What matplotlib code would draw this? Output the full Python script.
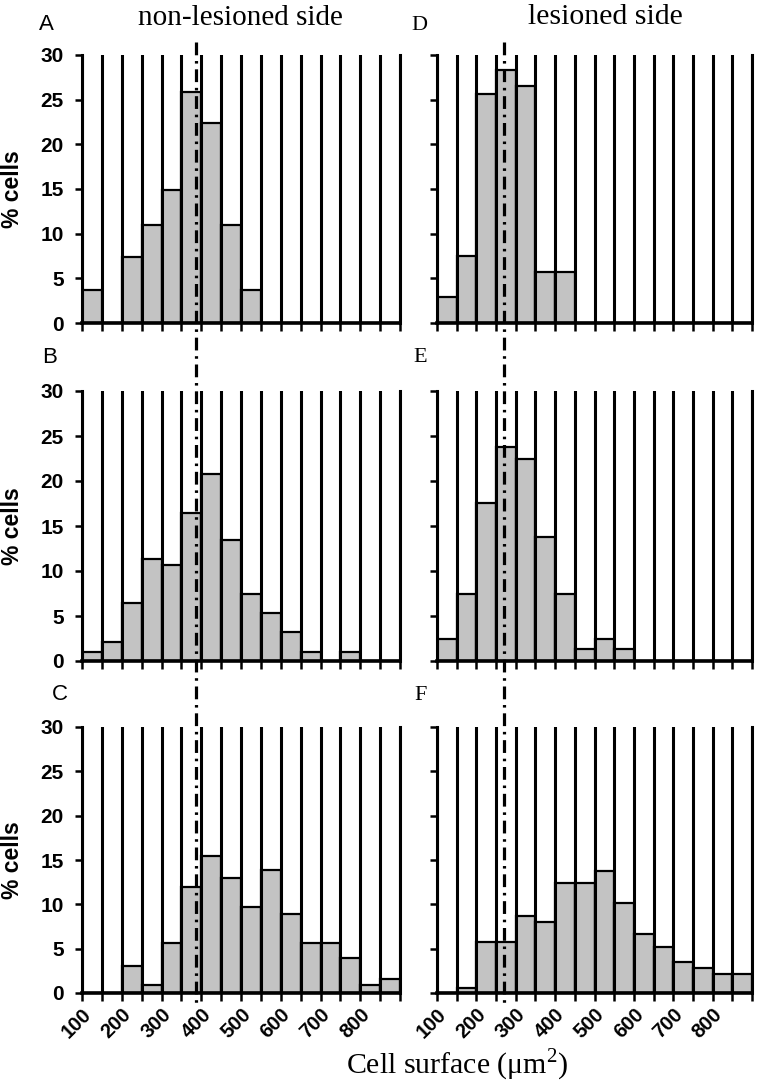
import numpy as np
import matplotlib
matplotlib.use("Agg")
from matplotlib import pyplot as plt
from matplotlib.lines import Line2D
from matplotlib import transforms

plt.rcParams['mathtext.fontset'] = 'custom'
plt.rcParams['mathtext.rm'] = 'Liberation Serif'

# 16 bins of 50 um^2, from 100 to 900
bin_edges = np.arange(100, 901, 50)
tick_labels = ['100', '200', '300', '400', '500', '600', '700', '800']

# % cells per bin
non_lesioned_A = [3.7, 0, 7.4, 11.0, 14.9, 25.9, 22.4, 11.0, 3.7, 0, 0, 0, 0, 0, 0, 0]
non_lesioned_B = [1.0, 2.1, 6.4, 11.3, 10.7, 16.4, 20.8, 13.5, 7.4, 5.3, 3.2, 1.0, 0, 1.0, 0, 0]
non_lesioned_C = [0, 0, 3.1, 0.9, 5.6, 12.0, 15.5, 13.0, 9.7, 13.9, 8.9, 5.6, 5.6, 3.9, 0.9, 1.6]
lesioned_D = [2.9, 7.5, 25.6, 28.3, 26.5, 5.7, 5.7, 0, 0, 0, 0, 0, 0, 0, 0, 0]
lesioned_E = [2.4, 7.5, 17.6, 23.8, 22.5, 13.8, 7.5, 1.3, 2.5, 1.3, 0, 0, 0, 0, 0, 0]
lesioned_F = [0, 0.6, 5.7, 5.7, 8.7, 8.0, 12.4, 12.4, 13.8, 10.2, 6.6, 5.2, 3.5, 2.8, 2.1, 2.1]

# reference lines (um^2)
mean_non_lesioned = 388
mean_lesioned = 270

panels = [
    ('A', non_lesioned_A, 0, 0), ('B', non_lesioned_B, 1, 0), ('C', non_lesioned_C, 2, 0),
    ('D', lesioned_D, 0, 1), ('E', lesioned_E, 1, 1), ('F', lesioned_F, 2, 1),
]

fig = plt.figure(figsize=(7.58, 10.92), dpi=100)

W, H = 758.0, 1092.0
col_x = [(82, 318), (437, 315)]
row_y = [(55, 268), (391, 270), (727, 266)]

axes = {}
for letter, values, r, c in panels:
    x0, w = col_x[c]
    y0, h = row_y[r]
    ax = fig.add_axes([x0 / W, 1 - (y0 + h) / H, w / W, h / H])
    axes[(r, c)] = ax

    nb = len(values)
    ax.bar(np.arange(nb), values, width=1, align='edge', color='#c3c3c3',
           edgecolor='black', linewidth=1.6, zorder=2)

    ax.set_xlim(0, nb)
    ax.set_ylim(0, 30)
    ax.set_xticks(np.arange(nb + 1))
    ax.grid(axis='x', color='black', linewidth=2.2, zorder=3)
    ax.set_axisbelow(False)
    ax.set_yticks(np.arange(0, 31, 5))

    ax.spines['top'].set_visible(False)
    ax.spines['right'].set_linewidth(2.2)
    ax.spines['left'].set_linewidth(2.2)
    ax.spines['bottom'].set_linewidth(2.6)
    ax.tick_params(axis='y', direction='out', length=5, width=1.8, pad=8)
    ax.tick_params(axis='x', direction='out', length=5.5, width=1.8, pad=3)

    if c == 0:
        ax.set_yticklabels([str(v) for v in range(0, 31, 5)], fontsize=15,
                           fontweight='bold', family='Liberation Sans')
        ax.set_ylabel('% cells', fontsize=16.5, fontweight='bold',
                      family='Liberation Sans')
        ax.yaxis.set_label_coords((24 - 82) / 318.0, 0.5)
    else:
        ax.set_yticklabels([])

    if r == 2:
        labels = [tick_labels[i // 2] if i % 2 == 0 and i // 2 < len(tick_labels) else ''
                  for i in range(nb + 1)]
        ax.set_xticklabels(labels, rotation=45, ha='right', rotation_mode='anchor',
                           fontsize=14.5, fontweight='bold', family='Liberation Sans')
    else:
        ax.set_xticklabels([])

    # panel letters
    lx = {0: {0: 46, 1: 50, 2: 60}, 1: {0: 419, 1: 420, 2: 421}}[c][r]
    ly = {0: 25, 1: 358, 2: 695}[r]
    fam = 'Liberation Sans' if c == 0 else 'Liberation Serif'
    fig.text(lx / W, 1 - ly / H, letter, fontsize=16, family=fam,
             ha='center', va='center')

# column titles
fig.text(240 / W, 1 - 18 / H, 'non-lesioned side', fontsize=21,
         family='Liberation Serif', ha='center', va='center')
fig.text(605 / W, 1 - 17 / H, 'lesioned side', fontsize=21.5,
         family='Liberation Serif', ha='center', va='center')

fig.text(457 / W, 1 - 1065 / H, r'Cell surface (μm$^{\mathrm{2}}$)', fontsize=21.5,
         family='Liberation Serif', ha='center', va='center')

# dash-dot reference lines running through the three panels of each column
for c, mean_val in [(0, mean_non_lesioned), (1, mean_lesioned)]:
    ax = axes[(2, c)]
    xd = (mean_val - bin_edges[0]) / 50.0
    trans = transforms.blended_transform_factory(ax.transData, fig.transFigure)
    line = Line2D([xd, xd], [1 - 42 / H, 1 - 1005 / H], transform=trans,
                  color='black', linewidth=2.3,
                  linestyle=(0, (4, 1.8, 0.8, 1.8)), zorder=10)
    fig.add_artist(line)

fig.savefig('out.png', dpi=100)
